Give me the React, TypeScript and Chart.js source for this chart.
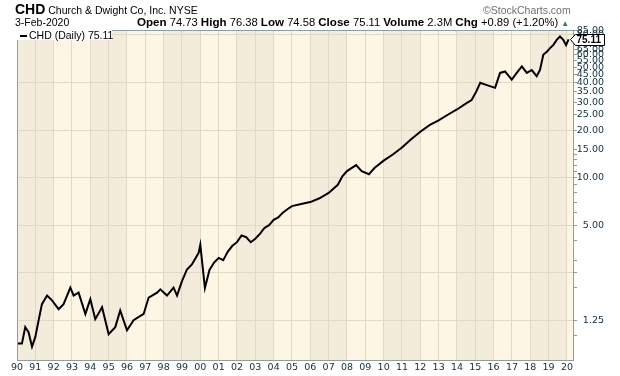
import React, { useEffect, useRef } from 'react';
import { Chart, registerables } from 'chart.js';

Chart.register(...registerables);

// decimal-year dates and daily closes
const dates: number[] = [
  1990.0, 1990.27, 1990.45, 1990.63, 1990.82, 1991.0, 1991.18, 1991.36, 1991.64, 1991.91,
  1992.27, 1992.54, 1992.91, 1993.09, 1993.36, 1993.73, 1994.0, 1994.27, 1994.64, 1995.0,
  1995.36, 1995.63, 1996.0, 1996.36, 1996.91, 1997.18, 1997.64, 1997.82, 1998.18, 1998.54,
  1998.73, 1999.0, 1999.27, 1999.54, 1999.91, 2000.0, 2000.25, 2000.5, 2000.75, 2001.0,
  2001.25, 2001.5, 2001.75, 2002.0, 2002.25, 2002.5, 2002.75, 2003.0, 2003.25, 2003.5,
  2003.75, 2004.0, 2004.25, 2004.5, 2004.75, 2005.0, 2005.5, 2006.0, 2006.5, 2007.0,
  2007.5, 2007.75, 2008.0, 2008.5, 2008.8, 2009.2, 2009.5, 2010.0, 2010.5, 2011.0,
  2011.5, 2012.0, 2012.5, 2013.0, 2013.5, 2014.0, 2014.5, 2014.8, 2015.05, 2015.27, 2015.63,
  2016.08, 2016.35, 2016.62, 2016.99, 2017.26, 2017.54, 2017.81, 2018.08, 2018.35, 2018.53,
  2018.71, 2018.9, 2019.08, 2019.26, 2019.44, 2019.62, 2019.8, 2019.95, 2020.09,
];
const closes: number[] = [
  0.89, 0.89, 1.13, 1.05, 0.85, 0.98, 1.25, 1.58, 1.79, 1.67,
  1.47, 1.58, 2.01, 1.79, 1.87, 1.37, 1.7, 1.27, 1.51, 1.02,
  1.13, 1.44, 1.08, 1.25, 1.37, 1.74, 1.87, 1.96, 1.79, 2.01,
  1.79, 2.21, 2.62, 2.82, 3.34, 3.76, 2.0, 2.6, 2.9, 3.1,
  3.0, 3.4, 3.7, 3.9, 4.3, 4.2, 3.9, 4.1, 4.4, 4.8,
  5.0, 5.4, 5.6, 6.0, 6.3, 6.6, 6.8, 7.0, 7.4, 8.0,
  9.0, 10.2, 11.0, 12.0, 11.0, 10.5, 11.5, 12.8, 14.0, 15.5,
  17.5, 19.5, 21.5, 23.0, 25.0, 27.0, 29.5, 31.0, 35.0, 39.8, 38.5,
  37.0, 46.0, 47.0, 41.7, 46.0, 50.6, 46.0, 48.0, 43.9, 48.0,
  59.9, 62.7, 66.0, 69.2, 74.5, 78.3, 74.5, 69.0, 75.11,
];

const yearTicks: number[] = [
  1990, 1991, 1992, 1993, 1994, 1995, 1996, 1997, 1998, 1999, 2000, 2001, 2002, 2003, 2004, 2005,
  2006, 2007, 2008, 2009, 2010, 2011, 2012, 2013, 2014, 2015, 2016, 2017, 2018, 2019, 2020,
];
const priceLabels: number[] = [1.25, 5, 10, 15, 20, 25, 30, 35, 40, 45, 50, 55, 60, 65, 70, 75, 80, 85];
const minorTicks: number[] = [1, 2, 3, 4, 6, 7, 8, 9, 11, 12, 13, 14];
const gridPrices: number[] = [1.25, 2.5, 5, 10, 20, 40, 80];
const darkBandStarts: number[] = [1990, 1994, 1998, 2002, 2006, 2010, 2014, 2018];
const lastClose = 75.11;

const LIGHT = '#fdf6e4';
const DARK = '#f4ecdb';
const GRID = '#e2d9c5';
const AXIS = '#8d9ea2';
const TEXT = '#0e2f3c';

export default function App() {
  const ref = useRef<HTMLCanvasElement>(null);

  useEffect(() => {
    document.body.style.margin = '0';
    const canvas = ref.current;
    if (!canvas) return;

    const bands = {
      id: 'bands',
      beforeDraw(chart: any) {
        const { ctx, chartArea: a, scales } = chart;
        const x = scales.x;
        ctx.save();
        ctx.fillStyle = LIGHT;
        ctx.fillRect(a.left, a.top, a.right - a.left, a.bottom - a.top);
        ctx.fillStyle = DARK;
        darkBandStarts.forEach((s) => {
          const x0 = Math.max(a.left, x.getPixelForValue(s));
          const x1 = Math.min(a.right, x.getPixelForValue(s + 2));
          if (x1 > x0) ctx.fillRect(x0, a.top, x1 - x0, a.bottom - a.top);
        });
        ctx.restore();
      },
    };

    const frame = {
      id: 'frame',
      afterDraw(chart: any) {
        const { ctx, chartArea: a, scales } = chart;
        ctx.save();
        ctx.strokeStyle = AXIS;
        ctx.lineWidth = 1;
        ctx.beginPath();
        ctx.moveTo(a.left + 0.5, a.bottom);
        ctx.lineTo(a.left + 0.5, a.top + 0.5);
        ctx.lineTo(a.right, a.top + 0.5);
        ctx.stroke();
        // last price tag
        const yv = Math.round(scales.y.getPixelForValue(lastClose)) + 0.5;
        const xl = a.right;
        ctx.beginPath();
        ctx.moveTo(xl - 2.5, yv);
        ctx.lineTo(xl + 2.5, yv - 5);
        ctx.lineTo(xl + 31.5, yv - 5);
        ctx.lineTo(xl + 31.5, yv + 6);
        ctx.lineTo(xl + 2.5, yv + 6);
        ctx.closePath();
        ctx.fillStyle = '#ffffff';
        ctx.fill();
        ctx.strokeStyle = '#000000';
        ctx.stroke();
        ctx.fillStyle = '#000000';
        ctx.font = 'bold 10px "Liberation Sans", Arial, sans-serif';
        ctx.textBaseline = 'middle';
        ctx.textAlign = 'left';
        ctx.fillText(lastClose.toFixed(2), xl + 3.5, yv + 1);
        ctx.restore();
      },
    };

    const chart = new Chart(canvas, {
      type: 'line',
      data: {
        datasets: [
          {
            label: 'CHD (Daily)',
            data: dates.map((d, i) => ({ x: d, y: closes[i] })),
            borderColor: '#000000',
            borderWidth: 2,
            pointRadius: 0,
            tension: 0,
            fill: false,
          },
        ],
      },
      options: {
        animation: false,
        responsive: false,
        maintainAspectRatio: false,
        layout: { padding: { left: 17, top: 30, right: 16, bottom: 0 } },
        plugins: { legend: { display: false }, tooltip: { enabled: false } },
        scales: {
          x: {
            type: 'linear',
            min: 1990,
            max: 2020.33,
            afterBuildTicks: (s: any) => {
              s.ticks = yearTicks.map((v) => ({ value: v }));
            },
            afterFit: (s: any) => {
              s.height = 16;
            },
            ticks: {
              autoSkip: false,
              maxRotation: 0,
              padding: 2,
              color: TEXT,
              font: { family: '"DejaVu Sans", Verdana, sans-serif', size: 9.5 },
              callback: (v: any) => String(Math.round(v) % 100).padStart(2, '0'),
            },
            grid: { color: GRID, drawTicks: false },
            border: { color: AXIS, width: 1 },
          },
          y: {
            type: 'logarithmic',
            position: 'right',
            min: 0.733,
            max: 86,
            afterBuildTicks: (s: any) => {
              s.ticks = [...priceLabels, ...minorTicks, 2.5].map((v) => ({ value: v }));
            },
            afterFit: (s: any) => {
              s.width = 31;
            },
            ticks: {
              autoSkip: false,
              padding: 0,
              crossAlign: 'far',
              color: TEXT,
              font: { family: '"DejaVu Sans", Verdana, sans-serif', size: 9.5 },
              callback: (v: any) => (priceLabels.includes(v) ? Number(v).toFixed(2) : ''),
            },
            grid: {
              color: (c: any) => (c.tick && gridPrices.includes(c.tick.value) ? GRID : 'rgba(0,0,0,0)'),
              tickColor: AXIS,
              tickLength: 4,
            },
            border: { color: AXIS, width: 1 },
          },
        },
      } as any,
      plugins: [bands, frame],
    });

    return () => chart.destroy();
  }, []);

  const hdr: React.CSSProperties = {
    position: 'absolute',
    fontFamily: '"Liberation Sans", Arial, sans-serif',
    fontSize: '10.5px',
    color: '#000',
    whiteSpace: 'nowrap',
    lineHeight: '12px',
  };
  const bold: React.CSSProperties = { fontWeight: 'bold', fontSize: '11.6px' };

  return (
    <div style={{ position: 'relative', width: 620, height: 376, background: '#fff' }}>
      <canvas ref={ref} width={620} height={376} style={{ position: 'absolute', left: 0, top: 0 }} />
      <div style={{ ...hdr, left: 15, top: 3 }}>
        <span style={{ fontWeight: 'bold', fontSize: '14px' }}>CHD</span>{' '}
        <span>Church &amp; Dwight Co, Inc.</span> <span>NYSE</span>
      </div>
      <div style={{ ...hdr, left: 15, top: 16 }}>3-Feb-2020</div>
      <div style={{ ...hdr, left: 137, top: 16, fontSize: '11.2px' }}>
        <span style={bold}>Open</span> 74.73 <span style={bold}>High</span> 76.38{' '}
        <span style={bold}>Low</span> 74.58 <span style={bold}>Close</span> 75.11{' '}
        <span style={bold}>Volume</span> 2.3M <span style={bold}>Chg</span> +0.89 (+1.20%){' '}
        <span style={{ color: '#2a8a2a', fontSize: '8px' }}>▲</span>
      </div>
      <div style={{ ...hdr, left: 483, top: 4, color: '#6f6f6f' }}>©StockCharts.com</div>
      <div
        style={{
          ...hdr,
          left: 17,
          top: 30,
          width: 95,
          height: 10,
          lineHeight: '10px',
          background: '#ffffff',
        }}
      >
        <span
          style={{
            display: 'inline-block',
            width: 7,
            height: 2,
            background: '#000',
            margin: '0 2px 0 3px',
            verticalAlign: 'middle',
          }}
        />
        CHD (Daily) 75.11
      </div>
    </div>
  );
}
